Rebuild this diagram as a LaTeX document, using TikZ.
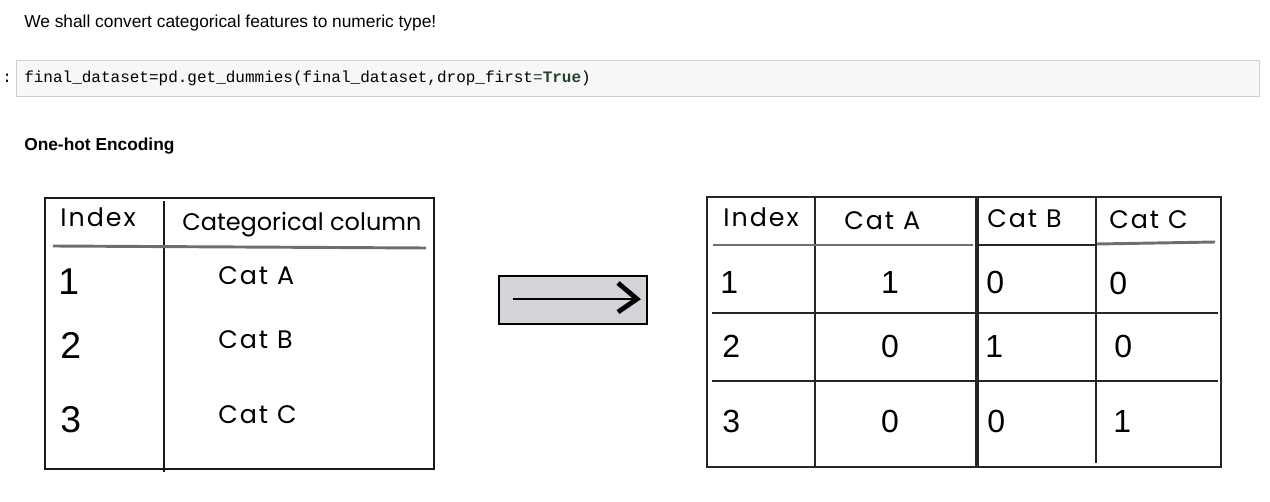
\documentclass[tikz,border=0pt]{standalone}
\usepackage{fontspec}
\setmainfont{Liberation Sans}
\setmonofont{Liberation Mono}
\newfontfamily\hand{Poppins}
\newfontfamily\handsp[LetterSpace=8]{Poppins}
\definecolor{codebg}{HTML}{F7F7F7}
\definecolor{codeborder}{HTML}{CFCFCF}
\definecolor{arrowbg}{HTML}{D4D4D8}
\definecolor{underl}{HTML}{6E6E6E}
\definecolor{truecol}{HTML}{24402F}
\begin{document}
\begin{tikzpicture}[x=0.75pt,y=-0.75pt,
  txt/.style={inner sep=0pt,anchor=base west},
  hw/.style={inner sep=0pt,anchor=base west,font=\handsp\fontsize{19}{22}\selectfont},
  hwl/.style={inner sep=0pt,anchor=base west,font=\hand\fontsize{18}{21}\selectfont},
  dig/.style={inner sep=0pt,anchor=base west,font=\fontsize{28}{32}\selectfont},
  digr/.style={inner sep=0pt,anchor=base west,font=\fontsize{24}{28}\selectfont},
  tline/.style={line width=1.5pt,black!90},
  uline/.style={line width=2.2pt,underl},
  rline/.style={line width=1.8pt,black!85}]
\useasboundingbox (0,0) rectangle (1270,502);
% intro text
\node[txt,font=\fontsize{13}{15}\selectfont] (intro) at (24,28) {We shall convert categorical features to numeric type!};
% code cell
\node[draw=codeborder,fill=codebg,line width=0.75pt,minimum width=1243*0.75pt,minimum height=36*0.75pt,anchor=north west,inner sep=0pt] (cell) at (16,60) {};
\node[txt,font=\ttfamily\fontsize{12}{14}\selectfont] (prompt) at (2,83) {:};
\node[txt,font=\ttfamily\fontsize{12}{14}\selectfont] (code) at (24,83) {final\_dataset=pd.get\_dummies(final\_dataset,drop\_first\textcolor{truecol}{=\textbf{True}})};
% heading
\node[txt,font=\bfseries\fontsize{13}{15}\selectfont] (head) at (24,151) {One-hot Encoding};
% ---------- left table ----------
\draw[tline] (45,198) rectangle (434,469);
\draw[tline] (164,201) -- (164,472);
\draw[uline] (53,246) -- (426,248);
\node[hw] (lidx) at (60,227) {Index};
\node[hwl] (lcat) at (182,231) {Categorical column};
\node[hw] (lca) at (218,285) {Cat A};
\node[hw] (lcb) at (218,348) {Cat B};
\node[hw] (lcc) at (218,423) {Cat C};
\node[dig] (l1) at (58,295) {1};
\node[dig] (l2) at (60,358) {2};
\node[dig] (l3) at (60,432) {3};
% ---------- arrow ----------
\node[draw,fill=arrowbg,line width=1.3pt,minimum width=148*0.75pt,minimum height=48*0.75pt,anchor=north west,inner sep=0pt] (abox) at (498,275) {};
\coordinate (as) at (513,299);
\coordinate (ae) at (636,299);
\draw[line width=1.3pt] (as) -- (ae);
\draw[line width=3.6pt,line join=miter] (618,283) -- (637,299) -- (618,312);
% ---------- right table ----------
\draw[rline] (707,197) rectangle (976,467);
\draw[rline] (978,197) rectangle (1221,467);
\draw[rline] (815,197) -- (815,468);
\draw[rline] (1096,197) -- (1096,463);
\draw[uline] (713,245) -- (973,245);
\draw[rline] (978,245) -- (1096,245);
\draw[uline] (1097,244) -- (1215,242);
\draw[rline] (712,313) -- (976,313);
\draw[rline] (978,313) -- (1218,313);
\draw[rline] (712,381) -- (976,381);
\draw[rline] (978,381) -- (1218,381);
\node[hw] (ridx) at (723,227) {Index};
\node[hw] (rca) at (844,230) {Cat A};
\node[hw] (rcb) at (987,228) {Cat B};
\node[hw] (rcc) at (1109,229) {Cat C};
\node[digr] (r11) at (720,293) {1};
\node[digr,anchor=base] (r12) at (890,293) {1};
\node[digr] (r13) at (986,293) {0};
\node[digr] (r14) at (1109,294) {0};
\node[digr] (r21) at (722,357) {2};
\node[digr,anchor=base] (r22) at (890,357) {0};
\node[digr] (r23) at (985,357) {1};
\node[digr] (r24) at (1114,357) {0};
\node[digr] (r31) at (722,432) {3};
\node[digr,anchor=base] (r32) at (890,432) {0};
\node[digr] (r33) at (987,432) {0};
\node[digr] (r34) at (1113,432) {1};
\end{tikzpicture}
\end{document}
